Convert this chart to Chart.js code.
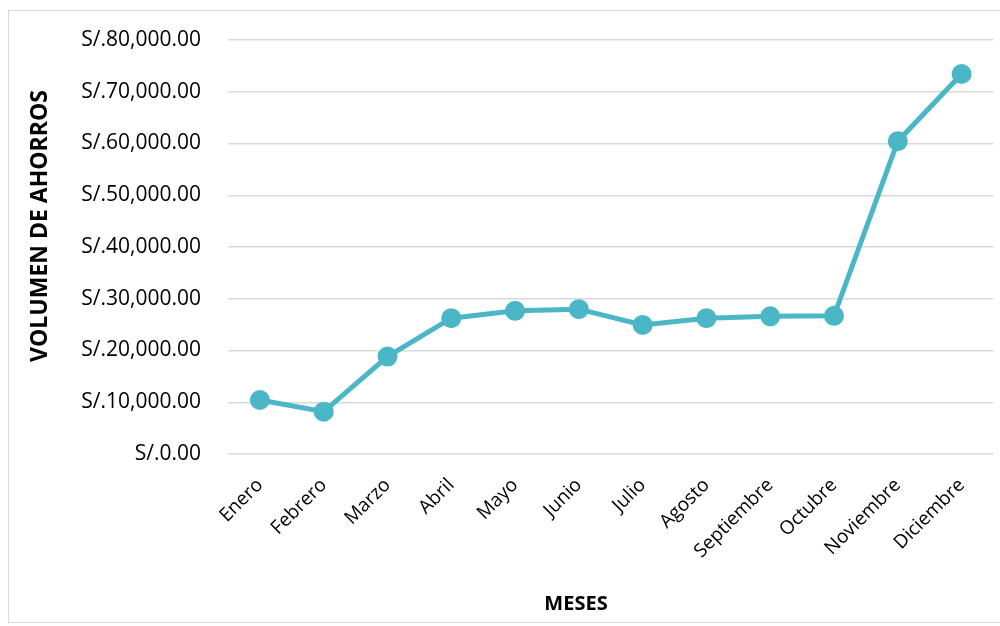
<!DOCTYPE html>
<html>
<head>
<meta charset="utf-8">
<script src="https://cdn.jsdelivr.net/npm/chart.js@4"></script>
<style>
body{margin:0;background:#fff;overflow:hidden}
#box{position:absolute;left:8px;top:10px;width:1010px;height:611px;border:1px solid #d9d9d9}
canvas{position:absolute;left:0;top:0}
</style>
</head>
<body>
<div id="box"></div>
<canvas id="chart" width="1006" height="626"></canvas>
<script>
const meses=["Enero","Febrero","Marzo","Abril","Mayo","Junio","Julio","Agosto","Septiembre","Octubre","Noviembre","Diciembre"]
const ahorros=[10440,8180,18820,26250,27660,27990,24950,26250,26600,26700,60450,73440]

const color="#4bb6c6"
const fuente="'Open Sans', 'Noto Sans', sans-serif"

function soles(v){
return "S/."+v.toLocaleString("en-US",{minimumFractionDigits:2,maximumFractionDigits:2})
}

// titulos de ejes, ubicados como en el original
const titulos={
id:"titulos",
afterDraw(chart){
const c=chart.ctx
c.save()
c.font="bold 20px "+fuente
c.fillStyle="#000"
c.textAlign="center"
c.textBaseline="middle"
c.fillText("MESES",576,604)
c.translate(40,226)
c.rotate(-Math.PI/2)
c.font="bold 23px "+fuente
c.fillText("VOLUMEN DE AHORROS",0,0)
c.restore()
}
}

new Chart(document.getElementById("chart"),{
type:"line",
data:{
labels:meses,
datasets:[{
data:ahorros,
borderColor:color,
backgroundColor:color,
borderWidth:5,
pointRadius:7.5,
pointHoverRadius:7.5,
tension:0
}]
},
options:{
responsive:false,
animation:false,
layout:{padding:{left:22,right:8,top:40,bottom:8}},
plugins:{legend:{display:false},tooltip:{enabled:false}},
scales:{
x:{
offset:true,
grid:{display:false},
border:{display:false},
ticks:{
color:"#000",
font:{family:fuente,size:19},
minRotation:45,
maxRotation:45,
padding:12
},
afterFit(s){s.height=164}
},
y:{
min:0,
max:80000,
grid:{color:"#d9d9d9",lineWidth:1.5,drawTicks:false},
border:{display:false},
ticks:{
stepSize:10000,
color:"#000",
font:{family:fuente,size:21},
padding:27,
callback:v=>soles(v)
},
afterFit(s){s.width=206}
}
}
},
plugins:[titulos]
})
</script>
</body>
</html>
